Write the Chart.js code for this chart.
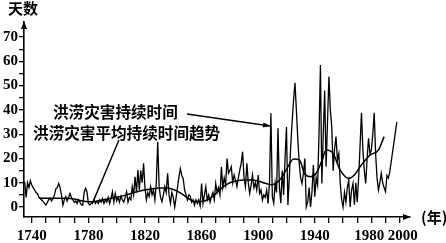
<!DOCTYPE html>
<html><head><meta charset="utf-8">
<script src="https://cdn.jsdelivr.net/npm/chart.js"></script>
<style>html,body{margin:0;padding:0;background:#fff}#wrap{width:446px;height:243px}</style>
</head><body><div id="wrap"><canvas id="c" width="446" height="243"></canvas></div>
<script>
// ---- data ----
const years = [1735,1736,1737,1738,1739,1740,1741,1742,1743,1744,1745,1746,1747,1748,1749,1750,1751,1752,1753,1754,1755,1756,1757,1758,1759,1760,1761,1762,1763,1764,1765,1766,1767,1768,1769,1770,1771,1772,1773,1774,1775,1776,1777,1778,1779,1780,1781,1782,1783,1784,1785,1786,1787,1788,1789,1790,1791,1792,1793,1794,1795,1796,1797,1798,1799,1800,1801,1802,1803,1804,1805,1806,1807,1808,1809,1810,1811,1812,1813,1814,1815,1816,1817,1818,1819,1820,1821,1822,1823,1824,1825,1826,1827,1828,1829,1830,1831,1832,1833,1834,1835,1836,1837,1838,1839,1840,1841,1842,1843,1844,1845,1846,1847,1848,1849,1850,1851,1852,1853,1854,1855,1856,1857,1858,1859,1860,1861,1862,1863,1864,1865,1866,1867,1868,1869,1870,1871,1872,1873,1874,1875,1876,1877,1878,1879,1880,1881,1882,1883,1884,1885,1886,1887,1888,1889,1890,1891,1892,1893,1894,1895,1896,1897,1898,1899,1900,1901,1902,1903,1904,1905,1906,1907,1908,1909,1910,1911,1912,1913,1914,1915,1916,1917,1918,1919,1920,1921,1922,1923,1924,1925,1926,1927,1928,1929,1930,1931,1932,1933,1934,1935,1936,1937,1938,1939,1940,1941,1942,1943,1944,1945,1946,1947,1948,1949,1950,1951,1952,1953,1954,1955,1956,1957,1958,1959,1960,1961,1962,1963,1964,1965,1966,1967,1968,1969,1970,1971,1972,1973,1974,1975,1976,1977,1978,1979,1980,1981,1982,1983,1984,1985,1986,1987,1988,1989,1990,1991,1992,1993,1998];
const durations = [10.4,4,10,8,10.8,9,8,7,6,5.6,4,3.5,2.9,2.2,1.5,0.8,2,3,3.6,2.5,3.5,4.9,7.5,8,9.7,8,5,0.8,3,4.3,2.5,4,5.6,4,3,2,2.5,1.5,3,2,1,0.8,6,7.7,6.3,1.5,0.8,1.5,2,3,1.5,2.5,1.5,3,2,3.5,1.5,3,2,4,1.5,3.5,6.3,2,5.5,2.5,4,2,4.5,3,2,4,6.3,2,4,3,8.4,5,12.5,6,15.2,7,15,10,18,8,2.9,6,4.3,8.4,5,7,2.9,10,26.9,8.4,4,2.2,5,8.4,6,13.9,5,1.5,6,4,0,4,8,12.5,15.9,13,11.8,7,5,2.9,5,4.5,2,3,0.8,3,1.5,3,0.5,9.7,1.5,5,8.4,3,5,2,4.3,6,3,9.7,6,8,5,16.6,8,12,9,20,13.9,15,16.6,10,13.2,11,8.4,12,15.2,18,22.8,12,8.4,18,10,5.6,9,13.2,8,10,7,13.2,5.6,7,2.9,5,4,7,1.5,10,38.6,4.3,1.6,10,6,32.4,8,1.6,15,5,20,33,0.8,12,25,35,44,51.2,40,28,18,12,9.7,14,20,0,2,8,0,6,17.3,4.3,12,9,30,58.5,9.7,30,48,16.6,35,53.7,40,33,15,24,29,19.4,22,9.7,3,0,6,2,8,11,0,7,9.7,1,10,2,12,25,38.8,23.5,15,9.7,20,28.3,22,23.5,30,38.8,22,12,7,10,13.9,10,8,6.3,13,12,14.5,35.1];
const trendYears  = [1745,1750,1755,1760,1765,1770,1775,1780,1785,1790,1795,1800,1805,1810,1815,1820,1825,1830,1835,1840,1845,1850,1855,1860,1865,1870,1875,1880,1885,1890,1895,1900,1905,1910,1915,1920,1925,1929,1933,1937,1941,1945,1948,1953,1958,1964,1968,1972,1979,1985,1989];
const trendValues = [3.7,3.6,3.6,3.6,3.6,3.3,2.6,2.2,2.3,2.9,3.5,4.0,4.7,5.6,6.4,7.0,7.5,7.8,7.8,7.2,5.8,3.8,2.3,2.3,3.2,5.5,8.2,10,10.8,11.1,11.1,10.7,9.8,9.2,11,15.5,19.8,19.5,13.5,12.5,13.9,19,23.5,22,15.2,11.8,13.2,16.6,21.4,23.5,29];
const xTickValues  = [1740,1750,1760,1770,1780,1790,1800,1810,1820,1830,1840,1850,1860,1870,1880,1890,1900,1910,1920,1930,1940,1950,1960,1970,1980,1990,2000];
const xLabelValues = [1740,1780,1820,1860,1900,1940,1980,2000];
const yTickValues  = [0,5,10,15,20,25,30,35,40,45,50,55,60,65,70];
const yLabelValues = [0,10,20,30,40,50,60,70];
const seriesLabel = '洪涝灾害持续时间';
const trendLabel  = '洪涝灾害平均持续时间趋势';
const yTitle = '天数';
const xTitle = '(年)';
// annotation anchors, in data units [year, days]
const seriesTextAt = [1755, 39.1];
const trendTextAt  = [1740.9, 30.5];
const seriesArrow  = [[1849.7, 38.3],[1908.4, 33.4]];
const trendPointer = [[1801.6, 27.6],[1782.6, 1.2]];

const numFontCss = 'bold 15px "Liberation Serif", serif';
const cjk = '"Noto Sans CJK SC", sans-serif';

function arrowHead(ctx, x, y, ang, len, half){
  ctx.save();ctx.translate(x,y);ctx.rotate(ang);
  ctx.beginPath();ctx.moveTo(0,0);ctx.lineTo(-len,-half);ctx.lineTo(-len,half);ctx.closePath();ctx.fill();
  ctx.restore();
}

const deco = {
  id:'deco',
  afterDraw(chart){
    const {ctx, chartArea:a, scales:{x,y}} = chart;
    ctx.save();
    ctx.fillStyle='#000';ctx.strokeStyle='#000';
    // axis arrows
    arrowHead(ctx, a.left, a.top-1, -Math.PI/2, 8, 3);
    arrowHead(ctx, a.right+1, a.bottom, 0, 8, 3);
    // x tick labels (placed at the scale's tick pixels, spread slightly where crowded)
    ctx.font = numFontCss;
    ctx.textAlign='center';ctx.textBaseline='middle';
    xLabelValues.forEach(v=>{
      let px = x.getPixelForValue(v);
      if (v===1980) px -= 2;
      if (v===2000) px += 3;
      ctx.fillText(String(v), px, a.bottom+19);
    });
    // titles
    ctx.font = 'bold 15px '+cjk;
    ctx.textBaseline='middle';
    ctx.textAlign='center';
    ctx.fillText(yTitle, a.left-1, 8);
    ctx.textAlign='left';
    ctx.fillText(xTitle, a.right+11, a.bottom);
    // annotation texts
    ctx.font = 'bold 15.6px '+cjk;
    ctx.fillText(seriesLabel, x.getPixelForValue(seriesTextAt[0]), y.getPixelForValue(seriesTextAt[1]));
    ctx.fillText(trendLabel, x.getPixelForValue(trendTextAt[0]), y.getPixelForValue(trendTextAt[1]));
    // arrow to series
    const p0=[x.getPixelForValue(seriesArrow[0][0]), y.getPixelForValue(seriesArrow[0][1])];
    const p1=[x.getPixelForValue(seriesArrow[1][0]), y.getPixelForValue(seriesArrow[1][1])];
    ctx.lineWidth=1.4;
    ctx.beginPath();ctx.moveTo(p0[0],p0[1]);ctx.lineTo(p1[0],p1[1]);ctx.stroke();
    arrowHead(ctx, p1[0], p1[1], Math.atan2(p1[1]-p0[1], p1[0]-p0[0]), 7, 2.5);
    // pointer to trend
    const q0=[x.getPixelForValue(trendPointer[0][0]), y.getPixelForValue(trendPointer[0][1])];
    const q1=[x.getPixelForValue(trendPointer[1][0]), y.getPixelForValue(trendPointer[1][1])];
    ctx.beginPath();ctx.moveTo(q0[0],q0[1]);ctx.lineTo(q1[0],q1[1]);ctx.stroke();
    ctx.restore();
  }
};

new Chart(document.getElementById('c'), {
  type:'line',
  data:{datasets:[
    {label:seriesLabel, data:years.map((v,i)=>({x:v,y:durations[i]})), borderColor:'#000', borderWidth:1.3, pointRadius:0, tension:0, fill:false},
    {label:trendLabel, data:trendYears.map((v,i)=>({x:v,y:trendValues[i]})), borderColor:'#000', borderWidth:1.5, pointRadius:0, cubicInterpolationMode:'monotone', fill:false}
  ]},
  options:{
    responsive:false, animation:false, devicePixelRatio:1,
    layout:{padding:{left:0,top:22,right:36,bottom:0}},
    plugins:{legend:{display:false}, tooltip:{enabled:false}},
    scales:{
      x:{type:'linear', min:1734.5, max:2007.3,
        afterBuildTicks:s=>{s.ticks = xTickValues.map(v=>({value:v}));},
        afterFit:s=>{s.height=26;},
        ticks:{autoSkip:false, maxRotation:0, color:'#000', font:{family:'"Liberation Serif", serif', size:15, weight:'bold'}, padding:2,
          callback:()=>''},
        grid:{drawOnChartArea:false, color:'#000', lineWidth:1.3, tickLength:6},
        border:{color:'#000', width:1.6}},
      y:{type:'linear', min:-4.1, max:76.2,
        afterBuildTicks:s=>{s.ticks = yTickValues.map(v=>({value:v}));},
        afterFit:s=>{s.width=24;},
        ticks:{autoSkip:false, color:'#000', font:{family:'"Liberation Serif", serif', size:15, weight:'bold'}, padding:1,
          callback:v=> yLabelValues.includes(v)? String(v) : ''},
        grid:{drawOnChartArea:false, color:'#000', lineWidth:1.3, tickLength:5},
        border:{color:'#000', width:1.6}}
    }
  },
  plugins:[deco]
});
</script></body></html>
